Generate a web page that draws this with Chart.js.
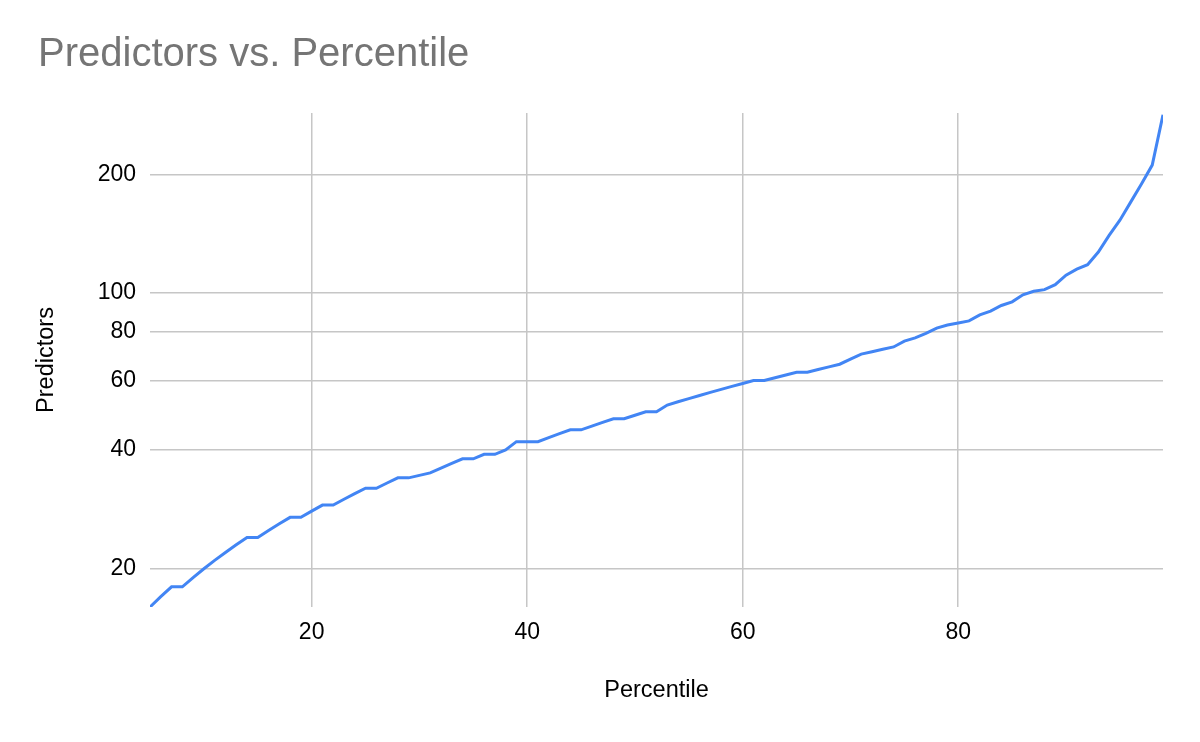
<!DOCTYPE html>
<html>
<head>
<meta charset="utf-8">
<title>Predictors vs. Percentile</title>
<script src="https://cdn.jsdelivr.net/npm/chart.js@4/dist/chart.umd.min.js"></script>
<style>
  html, body { margin: 0; padding: 0; background: #fff; }
  #wrap { width: 1200px; height: 742px; }
</style>
</head>
<body>
<div id="wrap"><canvas id="predChart" width="1200" height="742"></canvas></div>
<script>
// values
const percentiles = [
    5, 6, 7, 8, 9, 10, 11, 12, 13, 14, 15, 16, 17, 18, 19, 20, 21, 22, 23, 24,
    25, 26, 27, 28, 29, 30, 31, 32, 33, 34, 35, 36, 37, 38, 39, 40, 41, 42, 43, 44,
    45, 46, 47, 48, 49, 50, 51, 52, 53, 54, 55, 56, 57, 58, 59, 60, 61, 62, 63, 64,
    65, 66, 67, 68, 69, 70, 71, 72, 73, 74, 75, 76, 77, 78, 79, 80, 81, 82, 83, 84,
    85, 86, 87, 88, 89, 90, 91, 92, 93, 94, 95, 96, 97, 98, 99
];
const predictors = [
    16, 17, 18, 18, 19, 20, 21, 22, 23, 24, 24, 25, 26, 27, 27, 28, 29, 29, 30, 31,
    32, 32, 33, 34, 34, 34.5, 35, 36, 37, 38, 38, 39, 39, 40, 42, 42, 42, 43, 44, 45,
    45, 46, 47, 48, 48, 49, 50, 50, 52, 53, 54, 55, 56, 57, 58, 59, 60, 60, 61, 62,
    63, 63, 64, 65, 66, 68, 70, 71, 72, 73, 75.5, 77, 79, 81.5, 83, 84, 85, 88, 90, 93,
    95, 99, 101, 102, 105, 111, 115, 118, 127, 140, 153, 170, 189, 211, 283
];
const xTicks = [20, 40, 60, 80];
const yTicks = [20, 40, 60, 80, 100, 200];

const FONT = '"Liberation Sans", Arial, sans-serif';

const points = percentiles.map((p, i) => ({ x: p, y: predictors[i] }));

const ctx = document.getElementById('predChart').getContext('2d');
const predChart = new Chart(ctx, {
    type: 'line',
    data: {
        datasets: [{
            label: 'Predictors',
            data: points,
            borderColor: '#4285F4',
            borderWidth: 3,
            pointRadius: 0,
            tension: 0,
            fill: false
        }]
    },
    options: {
        responsive: false,
        animation: false,
        devicePixelRatio: 1,
        layout: { padding: { left: 38, right: 37, top: 0, bottom: 0 } },
        plugins: {
            legend: { display: false },
            tooltip: { enabled: false },
            title: {
                display: true,
                text: 'Predictors vs. Percentile',
                align: 'start',
                color: '#757575',
                font: { family: FONT, size: 40, weight: 'normal' },
                padding: { top: 31, bottom: 34 }
            }
        },
        scales: {
            x: {
                type: 'linear',
                min: 5,
                max: 99,
                bounds: 'data',
                afterBuildTicks: (scale) => { scale.ticks = xTicks.map(v => ({ value: v })); },
                afterFit: (scale) => { scale.height = 135; },
                grid: { color: '#c6c6c6', lineWidth: 1.5, drawTicks: false },
                border: { display: false },
                ticks: {
                    color: '#000',
                    padding: 12,
                    maxRotation: 0,
                    font: { family: FONT, size: 23 },
                    callback: (v) => String(v)
                },
                title: {
                    display: true,
                    text: 'Percentile',
                    color: '#000',
                    font: { family: FONT, size: 23.5 },
                    padding: { top: 0, bottom: 37 }
                }
            },
            y: {
                type: 'logarithmic',
                min: 16,
                max: 286,
                bounds: 'data',
                afterBuildTicks: (scale) => { scale.ticks = yTicks.map(v => ({ value: v })); },
                afterFit: (scale) => { scale.width = 112; },
                grid: { color: '#c6c6c6', lineWidth: 1.5, drawTicks: false },
                border: { display: false },
                ticks: {
                    color: '#000',
                    padding: 14,
                    font: { family: FONT, size: 23 },
                    callback: (v) => String(v)
                },
                title: {
                    display: true,
                    text: 'Predictors',
                    color: '#000',
                    font: { family: FONT, size: 23.5, lineHeight: 1 },
                    padding: { top: -3, bottom: 0 }
                }
            }
        }
    }
});
</script>
</body>
</html>
